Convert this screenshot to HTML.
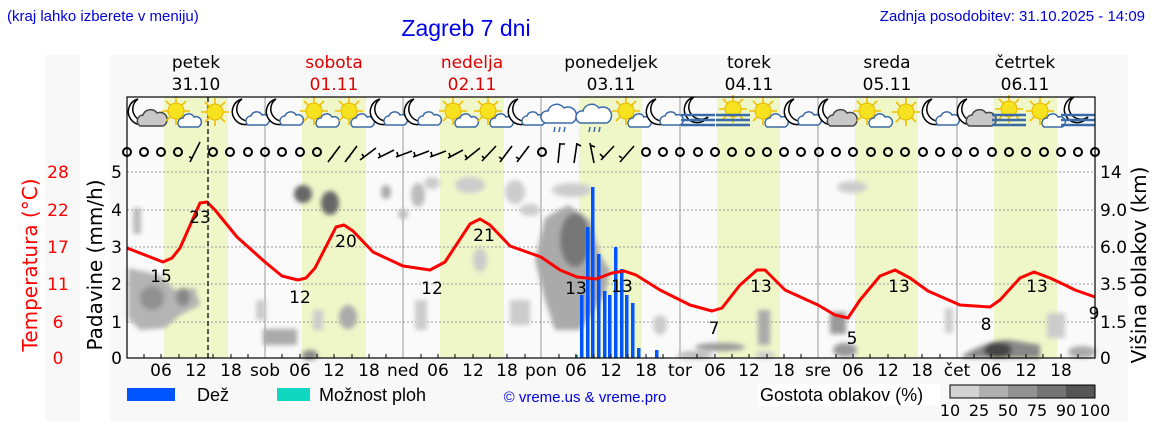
<!DOCTYPE html>
<html><head><meta charset="utf-8"><style>
html,body{margin:0;padding:0;background:#fff;}
svg{display:block;font-family:"DejaVu Sans","Liberation Sans",sans-serif;}
</style></head><body>
<svg width="1152" height="443" viewBox="0 0 1152 443" xmlns="http://www.w3.org/2000/svg">
<defs>
<filter id="bl" x="-50%" y="-50%" width="200%" height="200%"><feGaussianBlur stdDeviation="2.5"/></filter>
<g id="moon"><path d="M-4,-14 A13,13 0 1 0 10,6 A10,10 0 0 1 -4,-14 Z" fill="#fff" stroke="#000" stroke-width="1.5"/></g>
<g id="cloudS"><path d="M-2,12 a5,5 0 0 1 3,-9 a6,6 0 0 1 11,-1 a5,5 0 0 1 4,10 Z" fill="#fff" stroke="#3a6aa8" stroke-width="1.5"/></g>
<g id="cloudG"><path d="M-8,13 a6,6 0 0 1 3,-11 a8,8 0 0 1 14,-2 a6,6 0 0 1 6,13 Z" fill="#c8c8c8" stroke="#444" stroke-width="1.5"/></g>
<g id="sun"><g stroke="#f0c000" stroke-width="1.6"><line x1="-14" y1="0" x2="14" y2="0"/><line x1="0" y1="-14" x2="0" y2="14"/><line x1="-10" y1="-10" x2="10" y2="10"/><line x1="-10" y1="10" x2="10" y2="-10"/></g><circle r="8" fill="#f6e21e" stroke="#e8b800"/></g>
<g id="nc"><use href="#moon" x="-4" y="-2"/><use href="#cloudG" x="2" y="-2"/></g>
<g id="nc2"><use href="#moon" x="-4" y="-2"/><use href="#cloudS" x="0" y="-2"/></g>
<g id="sc"><use href="#sun" x="-4" y="-4"/><use href="#cloudS" x="2" y="0"/></g>
<g id="rain"><path d="M-14,8 a6,6 0 0 1 2,-12 a9,9 0 0 1 16,-3 a7,7 0 0 1 8,15 Z" fill="#fff" stroke="#3a6aa8" stroke-width="1.5"/><g stroke="#3a6aa8" stroke-width="1.5"><line x1="-5" y1="12" x2="-6" y2="17"/><line x1="0" y1="12" x2="-1" y2="17"/><line x1="5" y1="12" x2="4" y2="17"/></g></g>
<g id="fog"><g stroke="#3a6aa8" stroke-width="2.5"><line x1="-17" y1="2" x2="17" y2="2"/><line x1="-17" y1="7" x2="17" y2="7"/><line x1="-17" y1="12" x2="17" y2="12"/></g></g>
<g id="nf"><use href="#moon" x="0" y="-2"/><use href="#fog"/></g>
<g id="sf"><use href="#sun" x="0" y="-4"/><use href="#fog"/></g>
</defs>

<rect x="45" y="55" width="35" height="366" fill="#f8f8f8"/>
<rect x="110" y="55" width="1018" height="366" fill="#f8f8f8"/>
<rect x="127" y="97" width="968" height="261" fill="#fafafa"/>

<g fill="#eff7c8">
<rect x="164" y="97" width="64" height="261"/><rect x="302" y="97" width="64" height="261"/>
<rect x="440" y="97" width="64" height="261"/><rect x="579" y="97" width="63" height="261"/>
<rect x="717" y="97" width="63" height="261"/><rect x="855" y="97" width="63" height="261"/>
<rect x="994" y="97" width="63" height="261"/>
</g>

<g stroke="#999" stroke-width="1">
<line x1="265" y1="97" x2="265" y2="358"/><line x1="403" y1="97" x2="403" y2="358"/>
<line x1="541" y1="97" x2="541" y2="358"/><line x1="680" y1="97" x2="680" y2="358"/>
<line x1="818" y1="97" x2="818" y2="358"/><line x1="957" y1="97" x2="957" y2="358"/>
</g>
<g stroke="#999" stroke-dasharray="2,2" stroke-width="1">
<line x1="127" y1="172" x2="1095" y2="172"/><line x1="127" y1="210" x2="1095" y2="210"/>
<line x1="127" y1="247" x2="1095" y2="247"/><line x1="127" y1="284" x2="1095" y2="284"/>
<line x1="127" y1="322" x2="1095" y2="322"/>
</g>

<g filter="url(#bl)">
<path d="M128,268 L160,275 L175,290 L195,288 L200,305 L180,315 L165,328 L140,330 L128,318 Z" fill="#b4b4b4"/>
<ellipse cx="152" cy="298" rx="12" ry="12" fill="#909090"/>
<ellipse cx="183" cy="297" rx="7" ry="9" fill="#888"/>
<rect x="133" y="208" width="8" height="26" fill="#bbb"/>
<ellipse cx="303" cy="194" rx="9" ry="9" fill="#666"/>
<ellipse cx="330" cy="203" rx="9" ry="12" fill="#666"/>
<rect x="256" y="300" width="10" height="20" fill="#ccc"/>
<rect x="263" y="329" width="34" height="16" fill="#aaa"/>
<ellipse cx="310" cy="355" rx="8" ry="5" fill="#888"/>
<rect x="313" y="310" width="10" height="20" fill="#ccc"/>
<ellipse cx="348" cy="317" rx="9" ry="12" fill="#aaa"/>
<ellipse cx="386" cy="192" rx="5" ry="7" fill="#aaa"/>
<ellipse cx="403" cy="214" rx="5" ry="5" fill="#bbb"/>
<ellipse cx="418" cy="195" rx="7" ry="12" fill="#bbb"/>
<ellipse cx="432" cy="183" rx="8" ry="6" fill="#ccc"/>
<ellipse cx="470" cy="185" rx="15" ry="8" fill="#ccc"/>
<ellipse cx="515" cy="192" rx="10" ry="12" fill="#ccc"/>
<rect x="415" y="300" width="12" height="30" fill="#ccc"/>
<ellipse cx="480" cy="260" rx="7" ry="12" fill="#ccc"/>
<rect x="510" y="300" width="20" height="25" fill="#ccc"/>
<path d="M545,218 L568,205 L590,220 L600,255 L610,270 L605,295 L580,330 L555,330 L545,300 L535,260 Z" fill="#aaa"/>
<ellipse cx="575" cy="240" rx="15" ry="27" fill="#777"/>
<ellipse cx="572" cy="190" rx="20" ry="7" fill="#ccc"/>
<ellipse cx="530" cy="210" rx="10" ry="6" fill="#ccc"/>
<ellipse cx="660" cy="325" rx="7" ry="10" fill="#ccc"/>
<ellipse cx="720" cy="347" rx="25" ry="4" fill="#999"/>
<rect x="758" y="310" width="12" height="35" fill="#aaa"/>
<rect x="830" y="312" width="16" height="22" fill="#999"/>
<ellipse cx="845" cy="350" rx="12" ry="7" fill="#999"/>
<ellipse cx="852" cy="187" rx="15" ry="6" fill="#ccc"/>
<rect x="945" y="308" width="8" height="25" fill="#ccc"/>
<path d="M963,355 Q990,340 1010,340 L1040,345 L1040,358 L963,358 Z" fill="#888"/>
<ellipse cx="998" cy="350" rx="14" ry="8" fill="#444"/>
<rect x="1047" y="313" width="18" height="25" fill="#ccc"/>
<ellipse cx="1082" cy="352" rx="14" ry="6" fill="#aaa"/>
<ellipse cx="765" cy="355" rx="10" ry="4" fill="#ccc"/>
<ellipse cx="695" cy="355" rx="18" ry="4" fill="#bbb"/>
</g>

<g fill="#0055ff">
<rect x="580" y="295" width="3.5" height="63"/><rect x="586" y="227" width="3.5" height="131"/>
<rect x="591" y="187" width="3.5" height="171"/><rect x="597" y="254" width="3.5" height="104"/>
<rect x="603" y="291" width="3.5" height="67"/><rect x="608" y="295" width="3.5" height="63"/>
<rect x="614" y="247" width="3.5" height="111"/><rect x="620" y="269" width="3.5" height="89"/>
<rect x="625" y="295" width="3.5" height="63"/><rect x="631" y="303" width="3.5" height="55"/>
<rect x="637" y="348" width="3.5" height="10"/><rect x="655" y="350" width="3.5" height="8"/>
</g>
<rect x="575" y="355" width="3" height="3" fill="#10c8b0"/>

<polyline fill="none" stroke="#ff0000" stroke-width="3" stroke-linejoin="round" points="127,248 163,262 172,258 180,248 200,203 207,202 215,210 237,237 265,262 282,276 298,280 306,278 315,268 336,227 344,225 353,231 373,252 403,266 430,270 445,262 470,224 480,219 490,225 510,246 541,257 560,270 577,277 596,279 612,273 624,271 636,275 660,290 690,305 712,311 722,308 740,285 757,270 765,270 785,290 818,305 835,315 848,318 860,300 880,276 895,270 910,278 928,291 960,305 990,307 1000,300 1020,278 1034,272 1050,278 1065,285 1075,290 1095,297"/>
<g font-size="17" fill="#000" text-anchor="middle">
<text x="161" y="282">15</text><text x="200" y="223">23</text><text x="300" y="303">12</text>
<text x="346" y="247">20</text><text x="432" y="294">12</text><text x="484" y="241">21</text>
<text x="576" y="294">13</text><text x="622" y="292">13</text><text x="714" y="334">7</text>
<text x="761" y="292">13</text><text x="852" y="344">5</text><text x="899" y="292">13</text>
<text x="986" y="330">8</text><text x="1037" y="292">13</text><text x="1094" y="319">9</text>
</g>

<line x1="208" y1="97" x2="208" y2="358" stroke="#222" stroke-width="1.5" stroke-dasharray="5,3"/>

<g fill="none" stroke="#000" stroke-width="2">
<circle cx="127" cy="152" r="4"/><circle cx="144" cy="152" r="4"/><circle cx="161" cy="152" r="4"/><circle cx="178" cy="152" r="4"/>
<circle cx="213" cy="152" r="4"/><circle cx="230" cy="152" r="4"/><circle cx="248" cy="152" r="4"/><circle cx="265" cy="152" r="4"/><circle cx="282" cy="152" r="4"/><circle cx="300" cy="152" r="4"/><circle cx="317" cy="152" r="4"/>
<circle cx="542" cy="152" r="4"/>
<circle cx="646" cy="152" r="4"/><circle cx="663" cy="152" r="4"/><circle cx="680" cy="152" r="4"/><circle cx="698" cy="152" r="4"/><circle cx="715" cy="152" r="4"/><circle cx="732" cy="152" r="4"/><circle cx="750" cy="152" r="4"/><circle cx="767" cy="152" r="4"/><circle cx="784" cy="152" r="4"/><circle cx="801" cy="152" r="4"/><circle cx="819" cy="152" r="4"/><circle cx="836" cy="152" r="4"/><circle cx="853" cy="152" r="4"/><circle cx="871" cy="152" r="4"/><circle cx="888" cy="152" r="4"/><circle cx="905" cy="152" r="4"/><circle cx="923" cy="152" r="4"/><circle cx="940" cy="152" r="4"/><circle cx="957" cy="152" r="4"/><circle cx="974" cy="152" r="4"/><circle cx="992" cy="152" r="4"/><circle cx="1009" cy="152" r="4"/><circle cx="1026" cy="152" r="4"/><circle cx="1044" cy="152" r="4"/><circle cx="1061" cy="152" r="4"/><circle cx="1078" cy="152" r="4"/><circle cx="1095" cy="152" r="4"/>
</g>
<g stroke="#000" stroke-width="1.6" fill="none">
<path d="M190,162 L200,142 M193,158 L189,157"/>
<path d="M328,162 L340,146 M330,159 L333,156"/><path d="M345,162 L357,146 M347,159 L350,156"/>
<path d="M360,160 L376,148 M364,157 L362,154"/><path d="M378,158 L394,150 M380,156 L379,153"/>
<path d="M396,157 L412,151 M398,156 L397,152"/><path d="M413,157 L429,151 M415,156 L414,152"/>
<path d="M430,157 L446,151 M432,156 L431,152"/><path d="M448,158 L463,150 M450,156 L449,153"/>
<path d="M465,160 L480,148 M467,158 L465,155"/><path d="M482,161 L496,146 M484,158 L482,156"/>
<path d="M500,162 L512,146 M502,159 L499,157"/><path d="M517,162 L529,146 M519,159 L516,157"/>
<path d="M558,163 L560,143 M560,144 L565,144"/><path d="M574,163 L577,143 M577,144 L581,146"/>
<path d="M594,163 L590,143 M590,145 L595,147"/><path d="M601,160 L614,146 M603,157 L600,154"/>
<path d="M620,162 L634,146 M622,158 L619,156"/>
</g>

<use href="#nc" x="146" y="115"/><use href="#sc" x="180" y="115"/><use href="#sun" x="215" y="112"/>
<use href="#nc2" x="250" y="115"/><use href="#nc2" x="284" y="115"/><use href="#sc" x="318" y="115"/>
<use href="#sc" x="353" y="115"/><use href="#nc2" x="388" y="115"/><use href="#nc2" x="422" y="115"/>
<use href="#sc" x="457" y="115"/><use href="#sc" x="492" y="115"/><use href="#nc2" x="526" y="115"/>
<use href="#rain" x="560" y="115"/><use href="#rain" x="595" y="115"/><use href="#sc" x="630" y="115"/>
<use href="#nc2" x="664" y="115"/><use href="#nf" x="698" y="113"/><use href="#sf" x="733" y="113"/>
<use href="#sc" x="767" y="115"/><use href="#nc2" x="802" y="115"/><use href="#nc" x="836" y="115"/>
<use href="#sc" x="871" y="115"/><use href="#sun" x="906" y="112"/><use href="#nc2" x="940" y="115"/>
<use href="#nc" x="975" y="115"/><use href="#sf" x="1009" y="113"/><use href="#sc" x="1044" y="115"/>
<use href="#nf" x="1078" y="113"/>

<rect x="127" y="97" width="968" height="261" fill="none" stroke="#000" stroke-width="1.2"/>

<g stroke="#000" stroke-width="1">
<path d="M144,358v-4M161,358v-4M179,358v-4M196,358v-4M213,358v-4M231,358v-4M248,358v-4M282,358v-4M300,358v-4M317,358v-4M334,358v-4M352,358v-4M369,358v-4M386,358v-4M421,358v-4M438,358v-4M455,358v-4M473,358v-4M490,358v-4M507,358v-4M525,358v-4M559,358v-4M576,358v-4M594,358v-4M611,358v-4M628,358v-4M646,358v-4M663,358v-4M697,358v-4M715,358v-4M732,358v-4M749,358v-4M767,358v-4M784,358v-4M801,358v-4M836,358v-4M853,358v-4M870,358v-4M888,358v-4M905,358v-4M922,358v-4M940,358v-4M974,358v-4M991,358v-4M1009,358v-4M1026,358v-4M1043,358v-4M1061,358v-4M1078,358v-4"/>
</g>
<g font-size="17" fill="#000" text-anchor="middle">
<text x="161" y="376">06</text><text x="196" y="376">12</text><text x="231" y="376">18</text><text x="265" y="376">sob</text>
<text x="300" y="376">06</text><text x="334" y="376">12</text><text x="369" y="376">18</text><text x="403" y="376">ned</text>
<text x="438" y="376">06</text><text x="473" y="376">12</text><text x="507" y="376">18</text><text x="541" y="376">pon</text>
<text x="576" y="376">06</text><text x="611" y="376">12</text><text x="646" y="376">18</text><text x="680" y="376">tor</text>
<text x="715" y="376">06</text><text x="749" y="376">12</text><text x="784" y="376">18</text><text x="818" y="376">sre</text>
<text x="853" y="376">06</text><text x="888" y="376">12</text><text x="922" y="376">18</text><text x="957" y="376">čet</text>
<text x="991" y="376">06</text><text x="1026" y="376">12</text><text x="1061" y="376">18</text>
</g>

<g font-size="17" fill="#000" text-anchor="end">
<text x="122" y="178">5</text><text x="122" y="216">4</text><text x="122" y="253">3</text>
<text x="122" y="290">2</text><text x="122" y="328">1</text><text x="122" y="364">0</text>
</g>
<g font-size="17" fill="#ff0000" text-anchor="middle">
<text x="58" y="178">28</text><text x="58" y="216">22</text><text x="58" y="253">17</text>
<text x="58" y="290">11</text><text x="58" y="328">6</text><text x="58" y="364">0</text>
</g>
<text transform="translate(37,265) rotate(-90)" font-size="20" fill="#ff0000" text-anchor="middle">Temperatura (°C)</text>
<text transform="translate(102,265) rotate(-90)" font-size="20" fill="#000" text-anchor="middle">Padavine (mm/h)</text>
<g font-size="17" fill="#000">
<text x="1100" y="178">14</text><text x="1100" y="216">9.0</text><text x="1100" y="253">6.0</text>
<text x="1100" y="290">3.5</text><text x="1100" y="328">1.5</text><text x="1100" y="364">0</text>
</g>
<text transform="translate(1146,265) rotate(-90)" font-size="20" fill="#000" text-anchor="middle">Višina oblakov (km)</text>

<g font-size="17" text-anchor="middle">
<text x="196" y="68" fill="#000">petek</text><text x="196" y="90" fill="#000">31.10</text>
<text x="334" y="68" fill="#d00">sobota</text><text x="334" y="90" fill="#d00">01.11</text>
<text x="472" y="68" fill="#d00">nedelja</text><text x="472" y="90" fill="#d00">02.11</text>
<text x="611" y="68" fill="#000">ponedeljek</text><text x="611" y="90" fill="#000">03.11</text>
<text x="749" y="68" fill="#000">torek</text><text x="749" y="90" fill="#000">04.11</text>
<text x="887" y="68" fill="#000">sreda</text><text x="887" y="90" fill="#000">05.11</text>
<text x="1025" y="68" fill="#000">četrtek</text><text x="1025" y="90" fill="#000">06.11</text>
</g>

<text x="7" y="21" font-family="Liberation Sans, sans-serif" font-size="15" fill="#0000dd">(kraj lahko izberete v meniju)</text>
<text x="466" y="36" font-family="Liberation Sans, sans-serif" font-size="23" fill="#0000ee" text-anchor="middle">Zagreb 7 dni</text>
<text x="1145" y="21" font-family="Liberation Sans, sans-serif" font-size="15" fill="#0000dd" text-anchor="end">Zadnja posodobitev: 31.10.2025 - 14:09</text>

<rect x="127" y="388" width="48" height="13" fill="#0055ff"/>
<text x="197" y="401" font-family="Liberation Sans, sans-serif" font-size="18" fill="#000">Dež</text>
<rect x="277" y="388" width="33" height="13" fill="#10d8c0"/>
<text x="319" y="401" font-family="Liberation Sans, sans-serif" font-size="18" fill="#000">Možnost ploh</text>
<text x="585" y="402" font-family="Liberation Sans, sans-serif" font-size="15" fill="#0000dd" text-anchor="middle">© vreme.us &amp; vreme.pro</text>
<rect x="758" y="384" width="182" height="22" fill="#fff"/>
<text x="760" y="401" font-family="Liberation Sans, sans-serif" font-size="18" fill="#000">Gostota oblakov (%)</text>
<rect x="950" y="385" width="29" height="13" fill="#d3d3d3"/><rect x="979" y="385" width="29" height="13" fill="#b0b0b0"/>
<rect x="1008" y="385" width="29" height="13" fill="#929292"/><rect x="1037" y="385" width="29" height="13" fill="#747474"/>
<rect x="1066" y="385" width="29" height="13" fill="#555"/>
<rect x="950" y="385" width="145" height="13" fill="none" stroke="#000" stroke-width="1"/>
<g font-size="16" fill="#000" text-anchor="middle">
<text x="950" y="416">10</text><text x="979" y="416">25</text><text x="1008" y="416">50</text>
<text x="1037" y="416">75</text><text x="1066" y="416">90</text><text x="1095" y="416">100</text>
</g>
</svg>
</body></html>
